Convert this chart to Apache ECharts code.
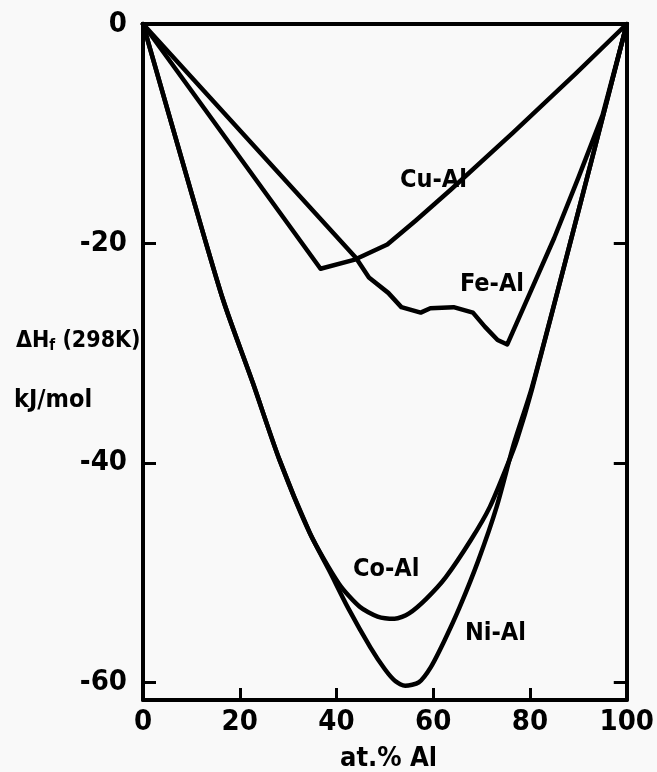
<!DOCTYPE html>
<html>
<head>
<meta charset="utf-8">
<script src="https://cdn.jsdelivr.net/npm/echarts@6/dist/echarts.min.js"></script>
<style>
html,body{margin:0;padding:0;background:#f9f9f9;}
#c{width:657px;height:772px;}
</style>
</head>
<body>
<div id="c"></div>
<script>
// ---- data ----
const xTicks = [0, 20, 40, 60, 80, 100];
const yTicks = [0, -20, -40, -60];

const cuX = [0, 36.7, 43.6, 50.5, 56.4, 63.6, 76.5, 89.5, 100];
const cuY = [0, -22.3, -21.5, -20.1, -17.9, -15.1, -9.9, -4.5, 0];

const feX = [0, 44.0, 46.7, 50.7, 53.4, 57.4, 59.4, 64.2, 68.2, 70.7, 73.3, 75.3, 80, 85, 90, 95, 100];
const feY = [0, -21.3, -23.1, -24.5, -25.8, -26.3, -25.9, -25.8, -26.3, -27.6, -28.8, -29.2, -24.5, -19.5, -14.0, -8.3, 0];

const coX = [0, 9.7, 16.6, 22.7, 28.2, 34.5, 40.5, 44.8, 48.5, 52.0, 55.0, 58.5, 62.6, 67.8, 71.7, 75.5, 77.3, 80.4, 88.8, 100];
const coY = [0, -14.9, -25.2, -32.7, -39.7, -46.4, -51.0, -53.1, -54.0, -54.2, -53.7, -52.4, -50.4, -47.0, -44.0, -40.0, -37.9, -33.3, -19.1, 0];

const niX = [0, 9.7, 16.6, 22.7, 28.2, 34.5, 38.5, 42.5, 47.0, 50.0, 52.2, 54.2, 57.0, 59.5, 62.3, 65.5, 69.3, 73.1, 76.7, 80.4, 88.8, 100];
const niY = [0, -14.9, -25.2, -32.7, -39.7, -46.4, -49.8, -53.3, -56.8, -58.8, -59.9, -60.3, -60.0, -58.6, -56.2, -53.1, -48.9, -44.0, -38.2, -33.1, -19.1, 0];

const seriesNames = ['Cu-Al', 'Fe-Al', 'Co-Al', 'Ni-Al'];
const yTitle1 = 'ΔH';
const yTitle1Sub = 'f';
const yTitle1Rest = ' (298K)';
const yTitle2 = 'kJ/mol';
const xTitle = 'at.% Al';

// ---- chart ----
const zip = (xs, ys) => xs.map((x, i) => [x, ys[i]]);
const FONT = '"DejaVu Sans Condensed", "DejaVu Sans", sans-serif';
const INK = '#000';

const chart = echarts.init(document.getElementById('c'), null, {renderer: 'canvas'});

function lineSeries(name, data, smooth) {
  return {
    name: name, type: 'line', data: data, smooth: smooth, symbol: 'none',
    xAxisIndex: 0, yAxisIndex: 0,
    lineStyle: {color: INK, width: 4.5, cap: 'round', join: 'round'},
    z: 5, animation: false
  };
}

const option = {
  backgroundColor: '#f9f9f9',
  animation: false,
  grid: {left: 143, top: 24, width: 502, height: 676, containLabel: false},
  xAxis: [
    {
      type: 'value', min: 0, max: 100, interval: 20, position: 'bottom',
      axisLine: {show: true, onZero: false, lineStyle: {color: INK, width: 4}},
      axisTick: {show: false},
      axisLabel: {show: true, margin: 8, color: INK, fontFamily: FONT, fontWeight: 'bold', fontSize: 29},
      splitLine: {show: false}
    },
    {
      type: 'value', min: 0, max: 100, interval: 20, position: 'top',
      axisLine: {show: true, onZero: false, lineStyle: {color: INK, width: 4}},
      axisTick: {show: false}, axisLabel: {show: false}, splitLine: {show: false}
    },
    {
      // duplicate bottom axis used only for the inward tick marks
      type: 'value', min: 0, max: 100, interval: 20, position: 'bottom',
      axisLine: {show: false, onZero: false},
      axisTick: {show: true, inside: true, length: 12, lineStyle: {color: INK, width: 3}},
      axisLabel: {show: false}, splitLine: {show: false}
    }
  ],
  yAxis: [
    {
      type: 'value', min: -61.6, max: 0, position: 'left',
      axisLine: {show: true, onZero: false, lineStyle: {color: INK, width: 4}},
      axisTick: {show: true, inside: true, length: 13, lineStyle: {color: INK, width: 3}, customValues: [-20, -40, -60]},
      axisLabel: {show: true, customValues: yTicks, margin: 16, color: INK, fontFamily: FONT, fontWeight: 'bold', fontSize: 29},
      splitLine: {show: false}
    },
    {
      type: 'value', min: -61.6, max: 0, position: 'right',
      axisLine: {show: true, onZero: false, lineStyle: {color: INK, width: 4}},
      axisTick: {show: true, inside: true, length: 13, lineStyle: {color: INK, width: 3}, customValues: [-20, -40, -60]},
      axisLabel: {show: false}, splitLine: {show: false}
    }
  ],
  series: [
    lineSeries(seriesNames[0], zip(cuX, cuY), false),
    lineSeries(seriesNames[1], zip(feX, feY), false),
    lineSeries(seriesNames[2], zip(coX, coY), 0.25),
    lineSeries(seriesNames[3], zip(niX, niY), 0.25)
  ],
  graphic: [
    {type: 'text', left: 400, top: 168, style: {text: seriesNames[0], fill: INK, font: 'bold 25px ' + FONT}},
    {type: 'text', left: 460, top: 272, style: {text: seriesNames[1], fill: INK, font: 'bold 25px ' + FONT}},
    {type: 'text', left: 353, top: 557, style: {text: seriesNames[2], fill: INK, font: 'bold 25px ' + FONT}},
    {type: 'text', left: 465, top: 621, style: {text: seriesNames[3], fill: INK, font: 'bold 25px ' + FONT}},
    {type: 'text', left: 16, top: 330, style: {
      text: '{a|' + yTitle1 + '}{s|' + yTitle1Sub + '}{a|' + yTitle1Rest + '}',
      rich: {
        a: {fill: INK, fontFamily: FONT, fontWeight: 'bold', fontSize: 23},
        s: {fill: INK, fontFamily: FONT, fontWeight: 'bold', fontSize: 15, verticalAlign: 'bottom', padding: [10, 0, 0, 0]}
      }
    }},
    {type: 'text', left: 14, top: 388, style: {text: yTitle2, fill: INK, font: 'bold 25px ' + FONT}},
    {type: 'text', left: 340, top: 745, style: {text: xTitle, fill: INK, font: 'bold 27px ' + FONT}}
  ]
};
chart.setOption(option);
</script>
</body>
</html>
